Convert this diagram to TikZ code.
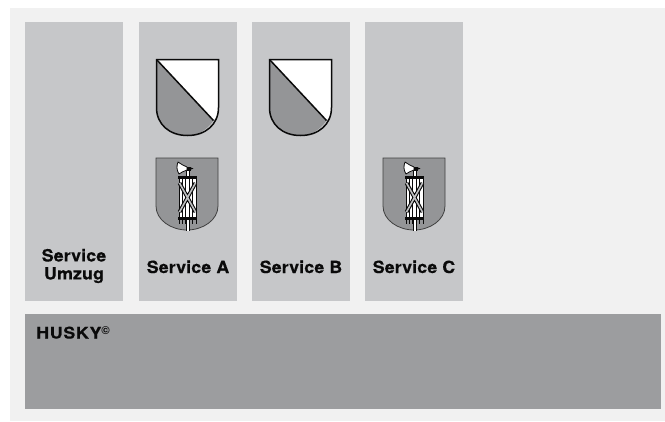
\documentclass[tikz,border=0pt]{standalone}
\usepackage{fontspec}
\setmainfont{TeX Gyre Heros}
\newfontfamily\lblfont[FakeStretch=1.06,FakeBold=0.5,LetterSpace=0.8]{TeX Gyre Heros Bold}
\newfontfamily\huskyfont[FakeStretch=1.12,FakeBold=0.5,LetterSpace=4]{TeX Gyre Heros Bold}
\newfontfamily\copyfont{TeX Gyre Heros Bold}
\definecolor{panelbg}{HTML}{F1F1F1}
\definecolor{colbg}{HTML}{C6C7C9}
\definecolor{huskybg}{HTML}{9C9D9F}
\definecolor{shieldg}{HTML}{949597}
\definecolor{ink}{HTML}{0A0A0A}
\tikzset{
  svc/.style={fill=colbg,draw=none,minimum width=98pt,minimum height=279pt,inner sep=0pt,outer sep=0pt,anchor=north west},
  lbl/.style={font=\lblfont\fontsize{16.8}{18}\selectfont,align=center,text=ink,inner sep=0pt,anchor=base},
  shieldline/.style={draw=ink,line width=1.5pt,line join=miter},
  shieldthin/.style={draw=black!75,line width=.8pt},
  fas/.style={draw=ink,line width=.8pt}
}
\newcommand{\zhshield}[2]{%
  \begin{scope}[shift={(#1,#2)}]
    \fill[white] (0,0) -- (62,0) -- (62,48) .. controls (62,53) and (60.5,57) .. (57,61) -- cycle;
    \fill[shieldg] (0,0) -- (57,61) .. controls (50,71) and (41,76) .. (31,76) .. controls (13,76) and (0,65) .. (0,48) -- cycle;
    \draw[shieldline] (0,0) -- (57,61);
    \draw[shieldline] (0,0) -- (62,0) -- (62,48) .. controls (62,65) and (49,76) .. (31,76) .. controls (13,76) and (0,65) .. (0,48) -- cycle;
  \end{scope}}
\newcommand{\sgshield}[2]{%
  \begin{scope}[shift={(#1,#2)}]
    \draw[shieldthin,fill=shieldg] (0,0) -- (62,0) -- (62,48) .. controls (62,62) and (47,72) .. (31,72) .. controls (15,72) and (0,62) .. (0,48) -- cycle;
    % staff
    \fill[white] (30.5,12) rectangle (33,73);
    \draw[ink,line width=.7pt] (30,12) -- (30,20) (33,12) -- (33,20) (30,62) -- (30,73) (33,62) -- (33,73);
    % axe
    \draw[fas,fill=white,line join=round] (22,4) .. controls (25,6) and (28,8) .. (31,9) -- (31,12) .. controls (28,13) and (25,14.5) .. (23,16) .. controls (20.5,12) and (20.5,8) .. (22,4) -- cycle;
    \fill[ink] (31,8.5) rectangle (35,12.5);
    \fill[ink] (35,9.5) -- (37.5,10.5) -- (35,11.5) -- cycle;
    % bundle
    \fill[white] (23,20) rectangle (40,61);
    \foreach \x in {23,26.4,29.8,33.2,36.6,40} {\draw[fas] (\x,20) -- (\x,66);}
    \fill[ink] (22,18) rectangle (41,21);
    \fill[ink] (22,59) rectangle (41,62);
    % straps
    \draw[ink,line width=3.8pt] (23.5,25) -- (39.5,54) (39.5,25) -- (23.5,54);
    \draw[shieldg!60!white,line width=1.6pt] (23.5,25) -- (39.5,54) (39.5,25) -- (23.5,54);
  \end{scope}}
\begin{document}
\begin{tikzpicture}[x=1pt,y=-1pt]
  \useasboundingbox (0,0) rectangle (665,421);
  \fill[white] (0,0) rectangle (665,421);
  \fill[panelbg] (10,8) rectangle (665,421);
  \node[svc] (umzug) at (25,22) {};
  \node[svc] (a) at (139,22) {};
  \node[svc] (b) at (252,22) {};
  \node[svc] (c) at (365,22) {};
  \fill[huskybg] (25,314) rectangle (661,409);
  \zhshield{156.5}{59.5}
  \zhshield{269.5}{59.5}
  \sgshield{156}{158}
  \sgshield{383}{158}
  \node[lbl,anchor=center] (lu) at (74,266) {Service\\Umzug};
  \node[lbl] (la) at (188,273) {Service A};
  \node[lbl] (lb) at (301,273) {Service B};
  \node[lbl] (lc) at (414,273) {Service C};
  \node[lbl,font=\huskyfont\fontsize{16}{17}\selectfont,anchor=base west] (lh) at (36,338.5) {HUSKY\raisebox{4pt}{\copyfont\fontsize{11.5}{12}\selectfont\textcopyright}};
\end{tikzpicture}
\end{document}
